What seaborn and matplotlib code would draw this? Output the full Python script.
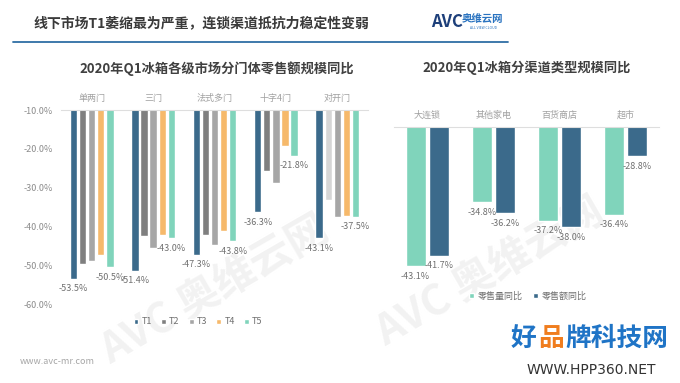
import pandas as pd
import matplotlib
matplotlib.use('Agg')
import matplotlib.pyplot as plt
import seaborn as sns

# Left chart: retail value YoY by market tier and door type
door_types = ['单两门', '三门', '法式多门', '十字4门', '对开门']
tiers = ['T1', 'T2', 'T3', 'T4', 'T5']
t1 = [-53.5, -51.4, -47.3, -36.3, -43.1]
t2 = [-49.7, -42.4, -42.2, -25.6, -33.2]
t3 = [-48.9, -45.6, -44.8, -28.7, -37.7]
t4 = [-47.4, -42.3, -41.1, -19.2, -37.2]
t5 = [-50.5, -43.0, -43.8, -21.8, -37.5]
yticks_left = [-10, -20, -30, -40, -50, -60]

# Right chart: by channel type
channels = ['大连锁', '其他家电', '百货商店', '超市']
series_right = ['零售量同比', '零售额同比']
volume_yoy = [-43.1, -34.8, -37.2, -36.4]
value_yoy = [-41.7, -36.2, -38.0, -28.8]

tier_colors = ['#3b6a8b', '#7f7f7f', '#a6a6a6', '#f6b96b', '#80d4bb']
right_colors = ['#80d4bb', '#3b6a8b']

sns.set_style('white')
plt.rcParams['font.family'] = ['Noto Sans CJK SC', 'DejaVu Sans']

W, H = 680, 383
fig = plt.figure(figsize=(6.8, 3.83), dpi=100)

def px(x, y):
    return x / W, 1 - y / H

# faint background watermarks (behind the axes)
for (wx, wy) in [(215, 290), (490, 272)]:
    fig.text(*px(wx, wy), 'AVC 奥维云网', fontsize=30, fontweight='bold', color='#f2f2f2',
             rotation=30, ha='center', va='center', zorder=-5)

# header
fig.text(*px(33, 23), '线下市场T1萎缩最为严重，连锁渠道抵抗力稳定性变弱', fontsize=10,
         fontweight='bold', color='#3a3a3a', ha='left', va='center')
fig.add_artist(plt.Line2D([13 / W, 508 / W], [1 - 42 / H] * 2, color='#2f6ea5', lw=1.3))
fig.text(*px(431, 22), 'AVC', fontsize=12, fontweight='bold', style='italic',
         color='#1d3f7a', ha='left', va='center')
fig.text(*px(462, 19), '奥维云网', fontsize=7.5, fontweight='bold', color='#2a73c0',
         ha='left', va='center')
fig.text(*px(484, 28), 'ALL VIEW CLOUD', fontsize=2.5, color='#2a73c0', ha='center', va='center')

# ---- left chart ----
df_left = pd.DataFrame({
    'door': door_types * 5,
    'tier': [t for t in tiers for _ in door_types],
    'value': t1 + t2 + t3 + t4 + t5,
})
axl = fig.add_axes([61 / W, 1 - 304 / H, (368 - 61) / W, (304 - 110) / H])
axl.set_facecolor('none')
sns.barplot(data=df_left, x='door', y='value', hue='tier', hue_order=tiers,
            palette=tier_colors, saturation=1, width=0.74, gap=0.2, ax=axl)
axl.set_ylim(-60, -10)
axl.set_yticks(yticks_left)
axl.set_yticklabels([f'{v:.1f}%' for v in yticks_left], fontsize=6.5, color='#8c8c8c')
axl.xaxis.tick_top()
axl.tick_params(axis='x', length=0, pad=5, labelsize=6.5, labelcolor='#a0a0a0')
axl.tick_params(axis='y', length=0, pad=6)
axl.set_xlabel('')
axl.set_ylabel('')
for s in ['left', 'right', 'bottom']:
    axl.spines[s].set_visible(False)
axl.spines['top'].set_color('#dedede')
axl.spines['top'].set_linewidth(0.8)

# odd light grey bar in the reference (对开门 T2)
axl.containers[1][4].set_facecolor('#d6d6d6')

for i in [0, 4]:
    axl.bar_label(axl.containers[i], fmt='%.1f%%', padding=4, fontsize=6.5, color='#707070')

h, l = axl.get_legend_handles_labels()
axl.legend_.remove()
fig.legend(h, l, loc='center', bbox_to_anchor=px(198, 322), ncol=5, frameon=False,
           fontsize=6.5, handlelength=0.55, handleheight=0.55, handletextpad=0.35,
           columnspacing=1.0, labelcolor='#707070')

fig.text(*px(217, 69), '2020年Q1冰箱各级市场分门体零售额规模同比', fontsize=9.5,
         fontweight='bold', color='#404040', ha='center', va='center')

# ---- right chart ----
df_right = pd.DataFrame({
    'channel': channels * 2,
    'series': [s for s in series_right for _ in channels],
    'value': volume_yoy + value_yoy,
})
axr = fig.add_axes([394 / W, 1 - 281 / H, (659 - 394) / W, (281 - 127) / H])
axr.set_facecolor('none')
sns.barplot(data=df_right, x='channel', y='value', hue='series', hue_order=series_right,
            palette=right_colors, saturation=1, width=0.7, gap=0.14, ax=axr)
axr.set_ylim(-45, -25)
axr.set_yticks([])
axr.xaxis.tick_top()
axr.tick_params(axis='x', length=0, pad=5, labelsize=6.5, labelcolor='#a0a0a0')
axr.set_xlabel('')
axr.set_ylabel('')
for s in ['left', 'right', 'bottom']:
    axr.spines[s].set_visible(False)
axr.spines['top'].set_color('#dedede')
axr.spines['top'].set_linewidth(0.8)
for c in axr.containers:
    axr.bar_label(c, fmt='%.1f%%', padding=4, fontsize=6.5, color='#707070')

h, l = axr.get_legend_handles_labels()
axr.legend_.remove()
fig.legend(h, l, loc='center', bbox_to_anchor=px(528, 296), ncol=2, frameon=False,
           fontsize=6.5, handlelength=0.55, handleheight=0.55, handletextpad=0.35,
           columnspacing=1.2, labelcolor='#707070')

fig.text(*px(527, 68), '2020年Q1冰箱分渠道类型规模同比', fontsize=9.5,
         fontweight='bold', color='#404040', ha='center', va='center')

# footer
fig.text(*px(20, 362), 'www.avc-mr.com', fontsize=6.5, color='#a6a6a6', ha='left', va='center')
fig.text(*px(511, 338), '好', fontsize=18.5, fontweight='bold', color='#1f74c6', ha='left', va='center')
fig.text(*px(538, 338), '品', fontsize=18.5, fontweight='bold', color='#f07d1e', ha='left', va='center')
fig.text(*px(565, 338), '牌科技网', fontsize=18.5, fontweight='bold', color='#1f74c6', ha='left', va='center')
fig.text(*px(591, 370), 'WWW.HPP360.NET', fontsize=10, color='#333333', ha='center', va='center',
         family=['DejaVu Sans'])

fig.savefig('out.png', dpi=100, facecolor='white')
